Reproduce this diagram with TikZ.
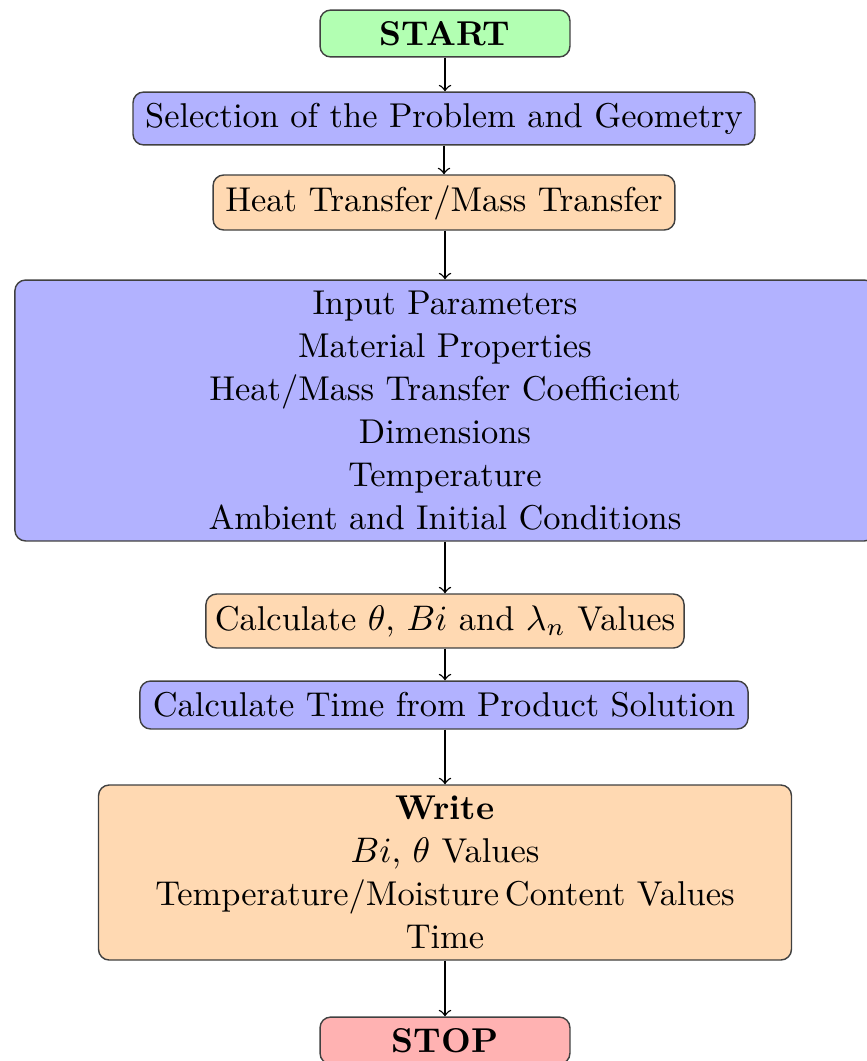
\documentclass[tikz,border=0pt]{standalone}
\usetikzlibrary{positioning}
\begin{document}
\begin{tikzpicture}[x=0.2817pt,y=-0.2817pt,
  box/.style={draw=black!75, rounded corners=3pt, inner sep=0pt, align=center, line width=0.4pt, font=\fontsize{9.7}{12.1}\selectfont},
  arr/.style={->, line width=0.4pt}]
\useasboundingbox (0,0) rectangle (867,1061);
\clip (0,0) rectangle (867,1061);
\node[box, fill=green!30, minimum width=70.4pt, minimum height=13.2pt] (start) at (445,33.5) {\textbf{START}};
\node[box, fill=blue!30, minimum width=175.2pt, minimum height=14.9pt] (sel) at (444,118.5) {Selection of the Problem and Geometry};
\node[box, fill=orange!30, minimum width=130.1pt, minimum height=15.5pt] (heat) at (444,202.5) {Heat Transfer/Mass Transfer};
\node[box, fill=blue!30, minimum width=242.3pt, minimum height=73.5pt] (input) at (445,410.5) {Input Parameters\\Material Properties\\Heat/Mass Transfer Coefficient\\Dimensions\\Temperature\\Ambient and Initial Conditions};
\node[box, fill=orange!30, minimum width=134.7pt, minimum height=15.2pt] (calc) at (445,621) {Calculate $\theta$, $Bi$ and $\lambda_n$ Values};
\node[box, fill=blue!30, minimum width=171.3pt, minimum height=13.5pt] (time) at (444,705) {Calculate Time from Product Solution};
\node[box, fill=orange!30, minimum width=195.2pt, minimum height=49.3pt] (write) at (445,872.5) {\textbf{Write}\\$Bi$, $\theta$ Values\\Temperature/Moisture\,Content Values\\Time};
\node[box, fill=red!30, minimum width=70.4pt, minimum height=13.2pt] (stop) at (445,1040.5) {\textbf{STOP}};
\draw[arr] (start) -- (start|-sel.north);
\draw[arr] (sel) -- (sel|-heat.north);
\draw[arr] (heat.south-|input) -- (input);
\draw[arr] (input) -- (input|-calc.north);
\draw[arr] (calc) -- (calc|-time.north);
\draw[arr] (time.south-|write) -- (write);
\draw[arr] (write) -- (stop);
\end{tikzpicture}
\end{document}
